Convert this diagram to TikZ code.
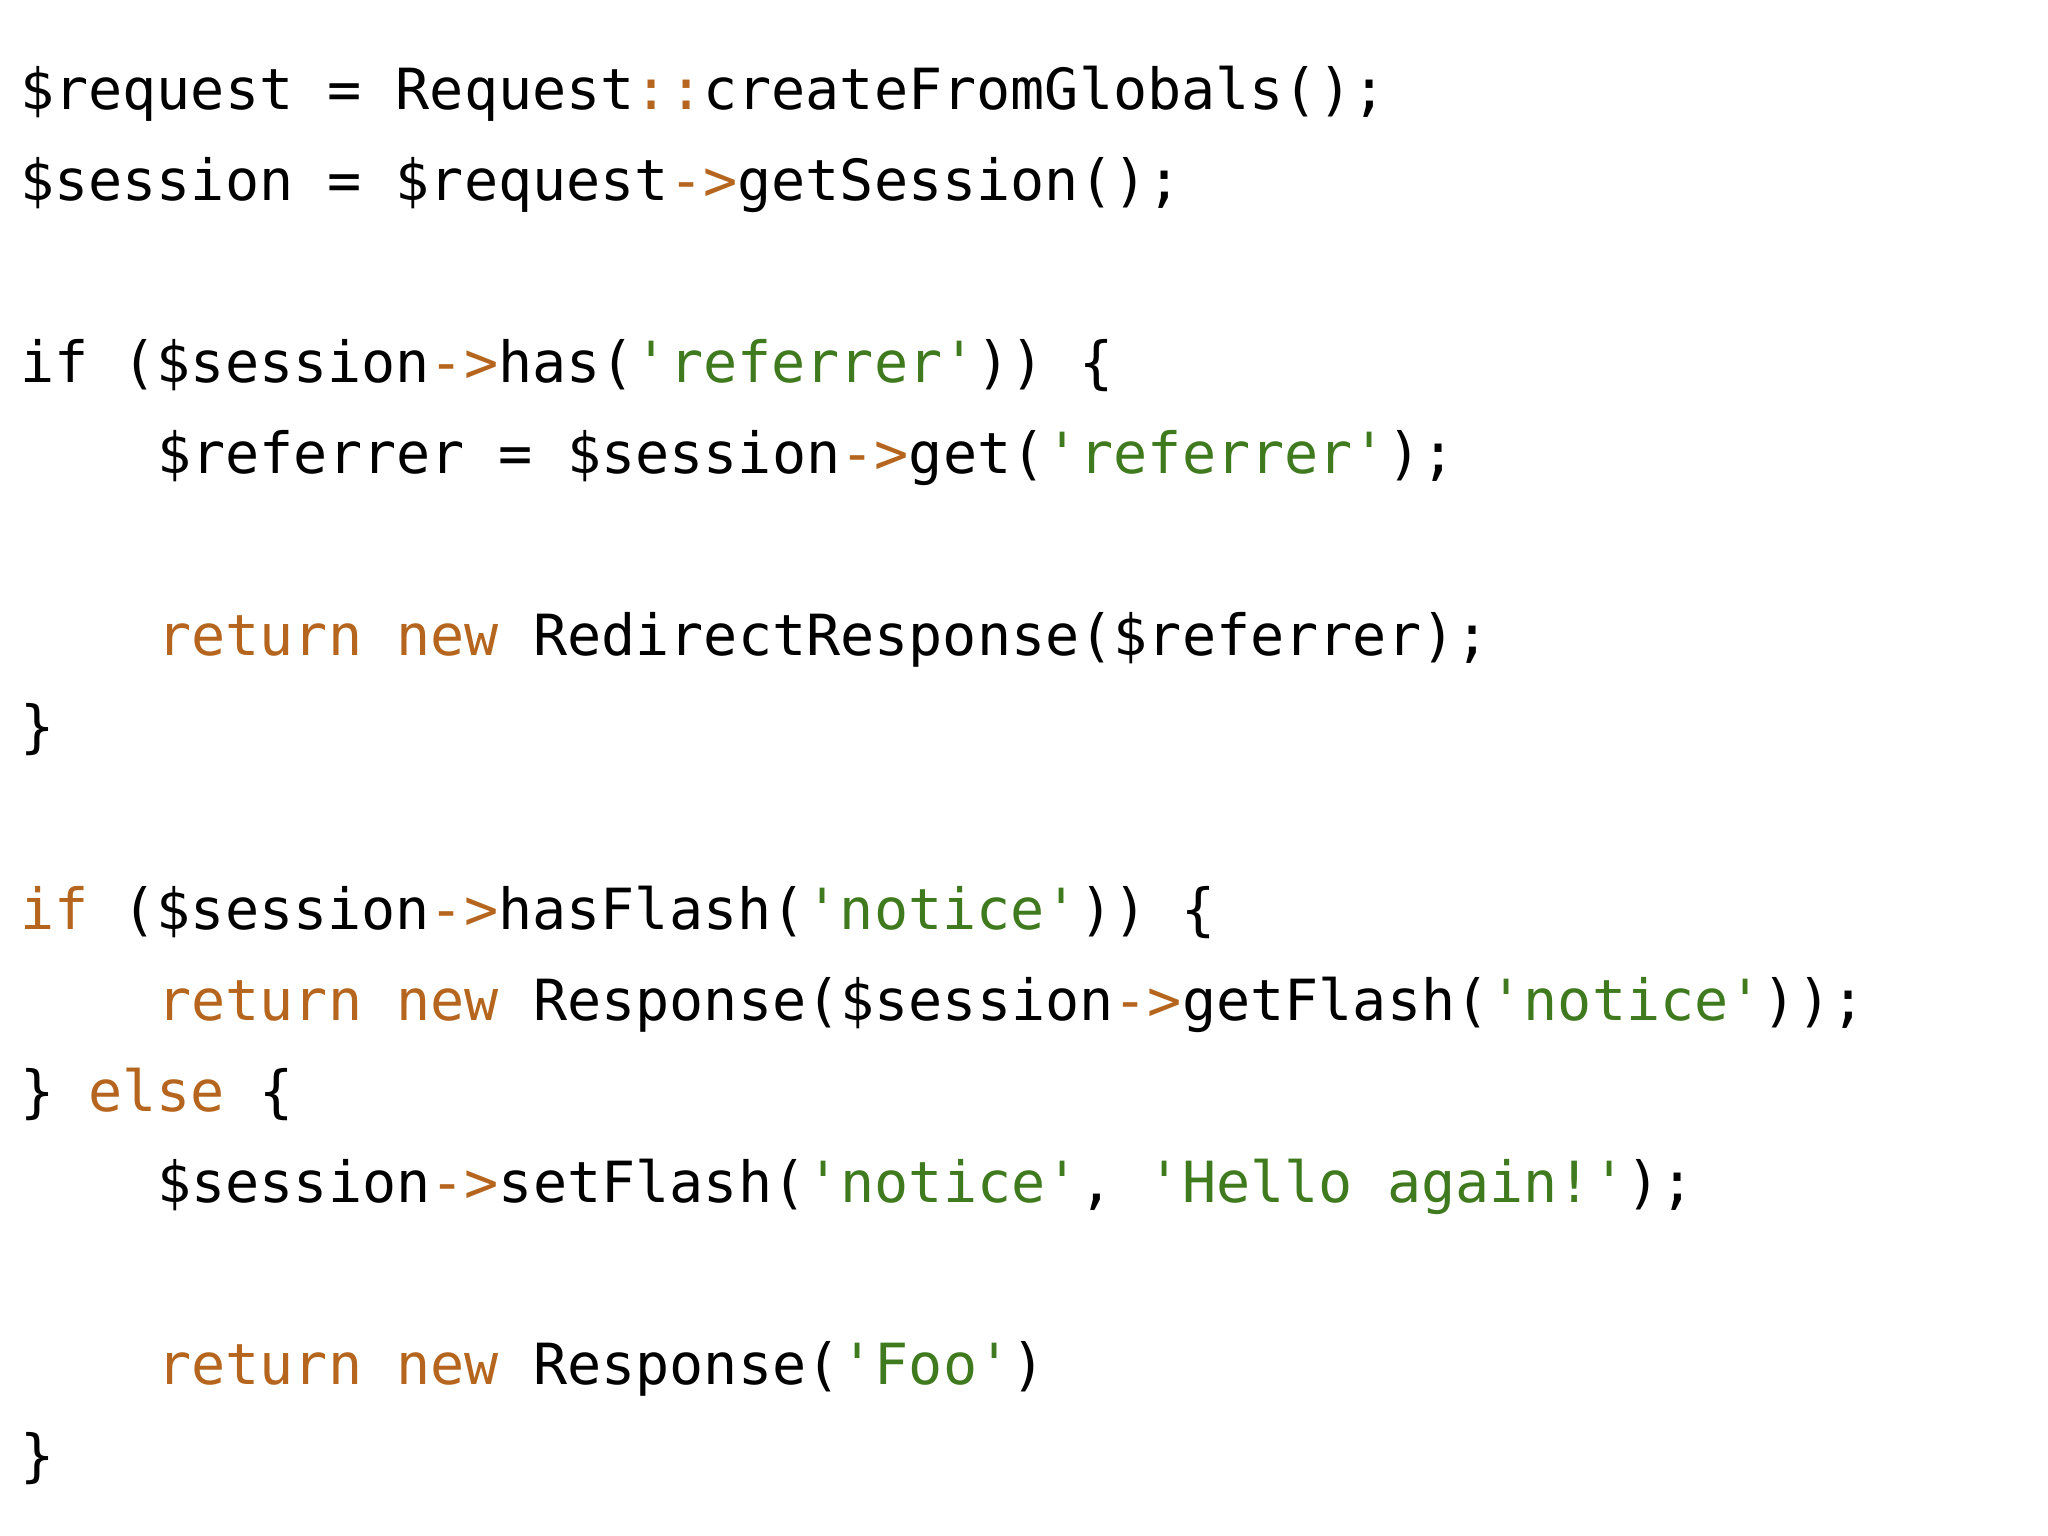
\documentclass[tikz,border=0pt]{standalone}
\usepackage{fontspec}
\newfontfamily\code{DejaVu Sans Mono}
\definecolor{kw}{HTML}{B5651D}
\definecolor{st}{HTML}{3F7A1F}
\newcommand{\q}{{\char"27\relax}}
\newcommand{\ar}{\textcolor{kw}{->}}
\newcommand{\K}[1]{\textcolor{kw}{#1}}
\newcommand{\St}[1]{\textcolor{st}{#1}}
\begin{document}
\begin{tikzpicture}[x=1pt,y=1pt,
  ln/.style={anchor=base west,inner sep=0pt,font=\code\fontsize{43}{50}\selectfont,text=black}]
\useasboundingbox (0,0) rectangle (1552,-1164);
\fill[white] (0,0) rectangle (1552,-1164);
\def\L#1{-(83+69.0*#1)}
\node[ln] (l0) at (15,{\L{0}}) {\$request = Request\K{::}createFromGlobals();};
\node[ln] (l1) at (15,{\L{1}}) {\$session = \$request\ar getSession();};
\node[ln] (l3) at (15,{\L{3}}) {if (\$session\ar has(\St{\q referrer\q})) \{};
\node[ln] (l4) at (119,{\L{4}}) {\$referrer = \$session\ar get(\St{\q referrer\q});};
\node[ln] (l6) at (119,{\L{6}}) {\K{return new} RedirectResponse(\$referrer);};
\node[ln] (l7) at (15,{\L{7}}) {\}};
\node[ln] (l9) at (15,{\L{9}}) {\K{if} (\$session\ar hasFlash(\St{\q notice\q})) \{};
\node[ln] (l10) at (119,{\L{10}}) {\K{return new} Response(\$session\ar getFlash(\St{\q notice\q}));};
\node[ln] (l11) at (15,{\L{11}}) {\} \K{else} \{};
\node[ln] (l12) at (119,{\L{12}}) {\$session\ar setFlash(\St{\q notice\q}, \St{\q Hello again!\q});};
\node[ln] (l14) at (119,{\L{14}}) {\K{return new} Response(\St{\q Foo\q})};
\node[ln] (l15) at (15,{\L{15}}) {\}};
\end{tikzpicture}
\end{document}
